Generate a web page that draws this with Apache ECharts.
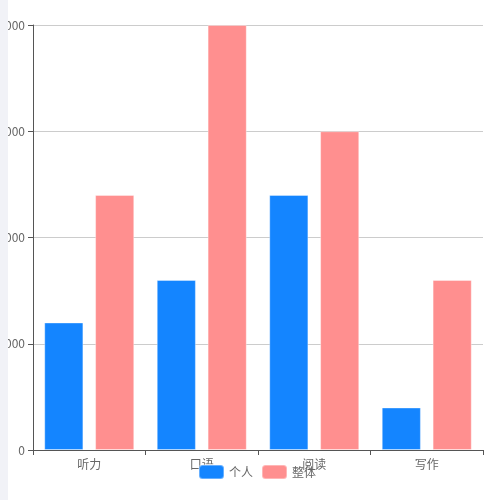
<!DOCTYPE html>
<html>
<head>
<meta charset="utf-8">
<script src="https://cdn.jsdelivr.net/npm/echarts@6/dist/echarts.min.js"></script>
<style>
  html, body { margin: 0; padding: 0; background: #fff; }
  #chart { position: absolute; left: 0; top: 0; width: 500px; height: 500px; }
  #strip { position: absolute; left: 0; top: 0; width: 8px; height: 500px; background: #f1f2f7; }
</style>
</head>
<body>
<div id="chart"></div>
<div id="strip"></div>
<script>
  // 数据
  var categories = ['听力', '口语', '阅读', '写作'];
  var personal = [1200, 1600, 2400, 400];   // 个人
  var overall = [2400, 4000, 3000, 1600];   // 整体

  var chart = echarts.init(document.getElementById('chart'));
  var font = '"Noto Sans CJK SC", sans-serif';

  var option = {
    animation: false,
    color: ['#1485ff', '#ff8f8f'],
    textStyle: { fontFamily: font },
    legend: {
      data: ['个人', '整体'],
      left: 193,
      top: 459,
      itemWidth: 25,
      itemHeight: 14,
      textStyle: { color: '#666', fontSize: 12 }
    },
    grid: { left: 33, right: 17, top: 25, bottom: 50, containLabel: false, outerBoundsMode: 'none' },
    xAxis: {
      type: 'category',
      data: categories,
      axisLine: { lineStyle: { color: '#555' } },
      axisTick: { show: true, lineStyle: { color: '#555' } },
      axisLabel: { color: '#666', fontSize: 12 }
    },
    yAxis: {
      type: 'value',
      min: 0,
      max: 4000,
      interval: 1000,
      axisLine: { show: true, lineStyle: { color: '#555' } },
      axisTick: { show: true, lineStyle: { color: '#555' } },
      axisLabel: { color: '#666', fontSize: 12, formatter: function (v) { return String(v); } },
      splitLine: { lineStyle: { color: '#ccc' } }
    },
    series: [
      {
        name: '个人',
        type: 'bar',
        data: personal,
        barGap: '30%',
        barCategoryGap: '20%',
        itemStyle: { borderColor: 'rgba(255,255,255,0.35)', borderWidth: 1 }
      },
      {
        name: '整体',
        type: 'bar',
        data: overall,
        itemStyle: { borderColor: 'rgba(255,255,255,0.35)', borderWidth: 1 }
      }
    ]
  };

  chart.setOption(option);
</script>
</body>
</html>
